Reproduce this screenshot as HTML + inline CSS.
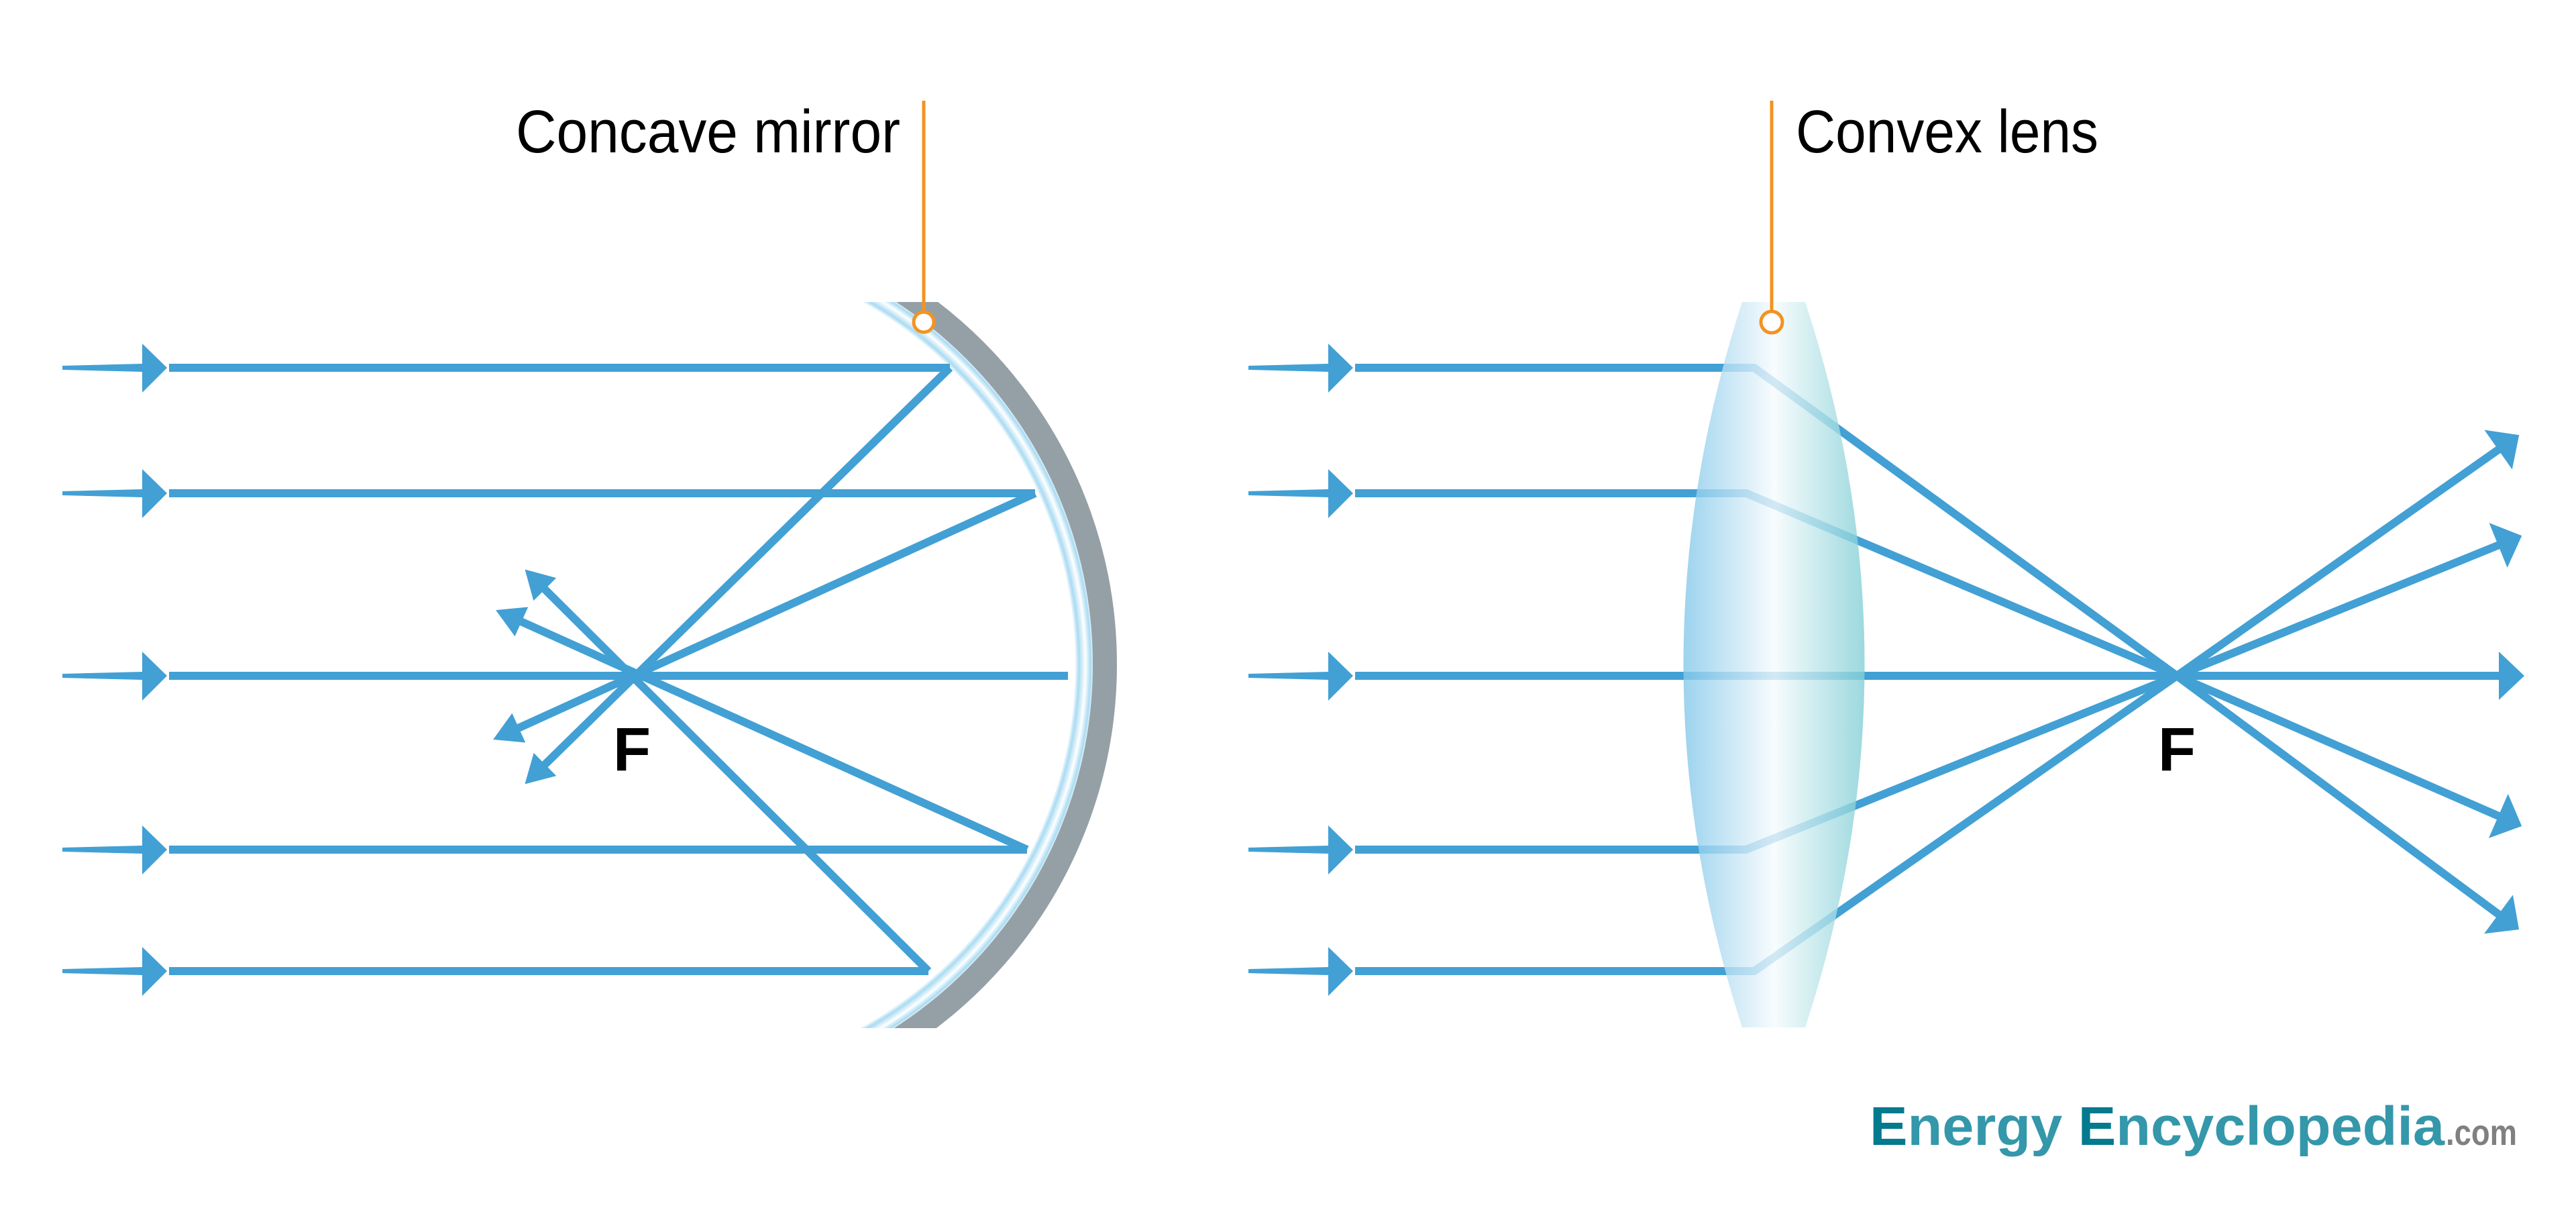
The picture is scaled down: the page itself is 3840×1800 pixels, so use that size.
<!DOCTYPE html>
<html><head><meta charset="utf-8"><style>html,body{margin:0;padding:0;background:#fff}svg{display:block}</style></head>
<body>
<svg width="3840" height="1800" viewBox="0 0 3840 1800" xmlns="http://www.w3.org/2000/svg">
<defs>
<marker id="ah" markerUnits="userSpaceOnUse" viewBox="-50 -40 60 80" refX="-10" refY="0" markerWidth="60" markerHeight="80" orient="auto">
<path d="M0,0 L-38,-36 L-38,36 z" fill="#42a0d4"/></marker>
<marker id="as" markerUnits="userSpaceOnUse" viewBox="-50 -30 60 60" refX="-12" refY="0" markerWidth="60" markerHeight="60" orient="auto">
<path d="M0,0 L-42,-24 L-42,24 z" fill="#42a0d4"/></marker>
<linearGradient id="lg" x1="2510" y1="0" x2="2780" y2="0" gradientUnits="userSpaceOnUse">
<stop offset="0" stop-color="#84c8ea"/><stop offset="0.5" stop-color="#f6fbfd"/><stop offset="1" stop-color="#82cfd6"/></linearGradient>
<radialGradient id="mg" cx="985" cy="990" r="646" gradientUnits="userSpaceOnUse">
<stop offset="0.955" stop-color="#fff"/><stop offset="0.965" stop-color="#a9dbf2"/><stop offset="0.98" stop-color="#fff"/><stop offset="0.992" stop-color="#a9dbf2"/><stop offset="1" stop-color="#fff"/></radialGradient>
<clipPath id="mc"><rect x="1200" y="450" width="600" height="1082"/></clipPath>
</defs>

<g clip-path="url(#mc)">
<circle cx="985" cy="990" r="632" fill="none" stroke="url(#mg)" stroke-width="28"/>
<circle cx="985" cy="990" r="662" fill="none" stroke="#95a0a6" stroke-width="36"/>
</g>

<g stroke="#42a0d4" stroke-width="12" fill="none">
<g fill="#42a0d4" stroke="none">
<path d="M93,545 L212,542 L212,554 L93,551 z"/><path d="M212,512 L249,548 L212,585 z"/>
<path d="M93,732 L212,729 L212,741 L93,738 z"/><path d="M212,699 L249,735 L212,772 z"/>
<path d="M93,1004 L212,1001 L212,1013 L93,1010 z"/><path d="M212,971 L249,1007 L212,1044 z"/>
<path d="M93,1263 L212,1260 L212,1272 L93,1269 z"/><path d="M212,1230 L249,1266 L212,1303 z"/>
<path d="M93,1444 L212,1441 L212,1453 L93,1450 z"/><path d="M212,1411 L249,1447 L212,1484 z"/>
<path d="M1861,545 L1980,542 L1980,554 L1861,551 z"/><path d="M1980,512 L2017,548 L1980,585 z"/>
<path d="M1861,732 L1980,729 L1980,741 L1861,738 z"/><path d="M1980,699 L2017,735 L1980,772 z"/>
<path d="M1861,1004 L1980,1001 L1980,1013 L1861,1010 z"/><path d="M1980,971 L2017,1007 L1980,1044 z"/>
<path d="M1861,1263 L1980,1260 L1980,1272 L1861,1269 z"/><path d="M1980,1230 L2017,1266 L1980,1303 z"/>
<path d="M1861,1444 L1980,1441 L1980,1453 L1861,1450 z"/><path d="M1980,1411 L2017,1447 L1980,1484 z"/>
</g>

<line x1="252" y1="548" x2="1416" y2="548"/>
<line x1="252" y1="735" x2="1543" y2="735"/>
<line x1="252" y1="1007" x2="1592" y2="1007"/>
<line x1="252" y1="1266" x2="1531" y2="1266"/>
<line x1="252" y1="1447" x2="1384" y2="1447"/>
<line x1="1416" y1="548" x2="791" y2="1160" marker-end="url(#as)"/>
<line x1="1543" y1="735" x2="746" y2="1097" marker-end="url(#as)"/>
<line x1="1531" y1="1266" x2="750" y2="914" marker-end="url(#as)"/>
<line x1="1384" y1="1447" x2="791" y2="857" marker-end="url(#as)"/>

<line x1="2020" y1="548" x2="2615" y2="548"/>
<line x1="2020" y1="735" x2="2603" y2="735"/>
<line x1="2020" y1="1266" x2="2603" y2="1266"/>
<line x1="2020" y1="1447" x2="2615" y2="1447"/>
<line x1="2020" y1="1007" x2="3753" y2="1007" marker-end="url(#ah)"/>
<g stroke-linecap="round">
<polyline points="2615,548 3245,1007"/>
<polyline points="2603,735 3245,1007"/>
<polyline points="2603,1266 3245,1007"/>
<polyline points="2615,1447 3245,1007"/>
</g>
<line x1="3245" y1="1007" x2="3747" y2="654" marker-end="url(#ah)"/>
<line x1="3245" y1="1007" x2="3750" y2="802" marker-end="url(#ah)"/>
<line x1="3245" y1="1007" x2="3750" y2="1227" marker-end="url(#ah)"/>
<line x1="3245" y1="1007" x2="3747" y2="1379" marker-end="url(#ah)"/>
</g>

<path d="M2597,450 L2691,450 Q2868,990 2691,1531 L2597,1531 Q2422,990 2597,450 z" fill="url(#lg)" fill-opacity="0.8"/>

<line x1="1377" y1="150" x2="1377" y2="465" stroke="#f39322" stroke-width="5"/>
<circle cx="1377" cy="480" r="15" fill="#fff" stroke="#f39322" stroke-width="5"/>
<line x1="2641" y1="150" x2="2641" y2="463" stroke="#f39322" stroke-width="5"/>
<circle cx="2641" cy="480" r="16" fill="#fff" stroke="#f39322" stroke-width="5"/>

<g font-family="Liberation Sans, sans-serif" fill="#000">
<text x="769" y="227" font-size="90" textLength="573" lengthAdjust="spacingAndGlyphs">Concave mirror</text>
<text x="2677" y="227" font-size="90" textLength="451" lengthAdjust="spacingAndGlyphs">Convex lens</text>
<text x="942" y="1148" font-size="92" font-weight="bold" text-anchor="middle">F</text>
<text x="3245" y="1148" font-size="92" font-weight="bold" text-anchor="middle">F</text>
</g>
<text x="2787" y="1706" font-family="Liberation Sans, sans-serif" font-size="82" font-weight="bold" textLength="857" lengthAdjust="spacingAndGlyphs" fill="#3497aa"><tspan fill="#047a8e">E</tspan>nergy <tspan fill="#047a8e">E</tspan>ncyclopedia</text>
<text x="3646" y="1706" font-family="Liberation Sans, sans-serif" font-size="54" font-weight="bold" textLength="106" lengthAdjust="spacingAndGlyphs" fill="#808080">.com</text>
</svg>
</body></html>
